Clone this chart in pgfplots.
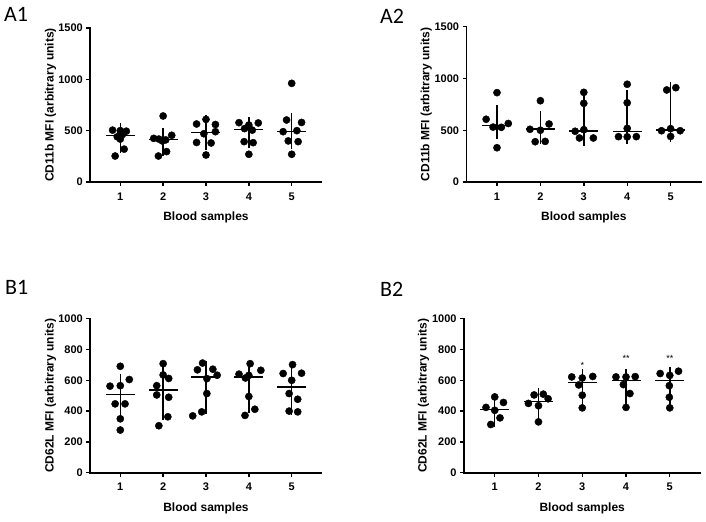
\documentclass[border=0pt]{standalone}
\usepackage{fontspec}
\setmainfont{Liberation Sans}
\newfontfamily\panelfont{Carlito}
\usepackage{pgfplots}
\pgfplotsset{compat=1.18}
\usepackage{pgfplotstable}

% individual values (x jittered around the sample number)
\pgfplotstableread{
x y
0.82 505
1.00 500
1.14 495
1.05 462
0.93 440
1.00 418
1.09 320
0.88 253
2.00 643
1.78 425
1.90 418
2.20 455
2.06 410
1.98 400
2.08 296
1.89 253
2.78 565
3.00 610
3.22 560
3.22 490
2.95 470
2.78 385
3.12 380
3.00 263
3.77 578
4.00 555
4.22 575
3.90 520
4.08 505
3.89 393
4.10 383
4.00 270
5.00 961
4.88 604
5.23 580
4.80 490
5.12 500
4.92 400
5.15 393
5.00 270
}\ptsAone

\pgfplotstableread{
x y
1.00 863
0.75 606
1.26 565
0.91 530
1.10 528
1.00 331
2.00 785
1.76 509
2.00 500
2.20 560
1.88 389
2.11 392
3.00 866
3.00 760
3.00 505
2.80 490
2.90 425
3.22 425
4.00 944
4.00 765
4.00 518
3.80 438
4.00 436
4.21 438
4.91 889
5.12 911
5.00 515
4.79 495
5.22 495
5.00 440
}\ptsAtwo

\pgfplotstableread{
x y
1.00 691
1.21 605
0.76 562
1.00 565
0.88 447
1.11 447
1.00 350
1.00 277
2.00 708
2.00 635
2.13 612
1.85 565
1.85 505
2.13 490
2.11 363
1.90 305
2.92 712
2.80 668
3.16 672
3.26 633
3.02 611
3.02 514
2.69 369
2.90 395
4.03 708
3.77 640
4.00 632
4.28 665
3.92 615
4.00 495
4.14 412
3.91 372
5.02 702
4.80 644
5.23 646
5.00 600
4.94 514
5.14 477
4.94 400
5.14 395
}\ptsBone

\pgfplotstableread{
x y
1.00 492
1.20 456
0.80 424
1.00 405
1.12 356
0.91 313
2.11 510
1.90 505
2.22 480
1.77 450
2.00 435
2.00 330
2.76 622
3.00 615
3.24 625
2.92 570
3.00 503
3.00 421
3.77 622
4.00 622
4.21 624
3.94 572
4.09 514
4.00 424
4.78 644
5.20 659
5.00 632
4.99 565
4.99 490
5.00 421
}\ptsBtwo

% median with interquartile range
\pgfplotstableread{
x med ep em
1 451 50 100
2 414 36 84
3 480 100 92
4 513 47 113
5 490 107 92
}\statAone

\pgfplotstableread{
x med ep em
1 544 126 56
2 510 102 72
3 493 292 73
4 488 327 52
5 500 395 40
}\statAtwo

\pgfplotstableread{
x med ep em
1 508 86 130
2 536 99 144
3 622 52 192
4 622 34 186
5 557 87 133
}\statBone

\pgfplotstableread{
x med ep em
1 412 54 66
2 462 38 64
3 585 37 100
4 598 27 106
5 598 42 132
}\statBtwo

\pgfplotsset{
  panel/.style={
    scale only axis,
    axis lines*=left,
    axis line style={-, line width=1.6bp, line cap=rect},
    tick align=outside,
    major tick length=4bp,
    tick style={line width=1.4bp, black},
    xmin=0.3, xmax=5.7, ymin=0,
    xtick={1,2,3,4,5},
    clip=false,
    /pgf/number format/assume math mode=true,
    /pgf/number format/set thousands separator={},
    ticklabel style={font=\fontsize{11bp}{12bp}\selectfont\bfseries},
    xticklabel style={yshift=-3bp},
    label style={font=\fontsize{12bp}{14bp}\selectfont\bfseries},
    xlabel={Blood samples},
    xlabel style={at={(axis description cs:0.5,-0.231)}, anchor=center},
    ylabel style={at={(axis description cs:-0.172,0.5)}, anchor=center},
    height=154bp,
  },
  dots/.style={only marks, mark=*, mark size=3.6bp, black, mark options={fill=black, draw=black}},
  iqr/.style={only marks, black, mark=-, mark size=14.5bp, mark options={line width=1.5bp},
    error bars/.cd, y dir=both, y explicit,
    error bar style={line width=1.5bp, black},
    error mark options={line width=1.5bp, mark size=7.5bp, black}},
}

\begin{document}
\begin{tikzpicture}
\path[use as bounding box] (0,0) rectangle (706bp,522bp);

% A1
\begin{axis}[panel, at={(90.3bp,340bp)}, anchor=south west, width=231.4bp,
  ymax=1500, ytick={0,500,1000,1500}, ylabel={CD11b MFI (arbitrary units)}]
\addplot[dots] table[x=x,y=y] {\ptsAone};
\addplot[iqr] table[x=x,y=med,y error plus=ep,y error minus=em] {\statAone};
\end{axis}

% A2
\begin{axis}[panel, at={(466.6bp,340bp)}, anchor=south west, width=234.4bp, height=155.3bp,
  ymax=1500, ytick={0,500,1000,1500}, ylabel={CD11b MFI (arbitrary units)}]
\addplot[dots] table[x=x,y=y] {\ptsAtwo};
\addplot[iqr] table[x=x,y=med,y error plus=ep,y error minus=em] {\statAtwo};
\end{axis}

% B1
\begin{axis}[panel, at={(90.3bp,49.3bp)}, anchor=south west, width=231.4bp,
  ymax=1000, ytick={0,200,400,600,800,1000}, ylabel={CD62L MFI (arbitrary units)}]
\addplot[dots] table[x=x,y=y] {\ptsBone};
\addplot[iqr] table[x=x,y=med,y error plus=ep,y error minus=em] {\statBone};
\end{axis}

% B2
\begin{axis}[panel, at={(464.1bp,49.3bp)}, anchor=south west, width=236.3bp,
  ymax=1000, ytick={0,200,400,600,800,1000}, ylabel={CD62L MFI (arbitrary units)}]
\addplot[dots] table[x=x,y=y] {\ptsBtwo};
\addplot[iqr] table[x=x,y=med,y error plus=ep,y error minus=em] {\statBtwo};
\node[font=\fontsize{9bp}{10bp}\selectfont] at (axis cs:3,695) {*};
\node[font=\fontsize{9bp}{10bp}\selectfont] at (axis cs:4,744) {**};
\node[font=\fontsize{9bp}{10bp}\selectfont] at (axis cs:5,744) {**};
\end{axis}

% panel letters
\node[anchor=base west, font=\panelfont\fontsize{22bp}{24bp}\selectfont, inner sep=0pt] at (4bp,500bp) {A1};
\node[anchor=base west, font=\panelfont\fontsize{22bp}{24bp}\selectfont, inner sep=0pt] at (380bp,498bp) {A2};
\node[anchor=base west, font=\panelfont\fontsize{22bp}{24bp}\selectfont, inner sep=0pt] at (5bp,227bp) {B1};
\node[anchor=base west, font=\panelfont\fontsize{22bp}{24bp}\selectfont, inner sep=0pt] at (380bp,225bp) {B2};
\end{tikzpicture}
\end{document}
